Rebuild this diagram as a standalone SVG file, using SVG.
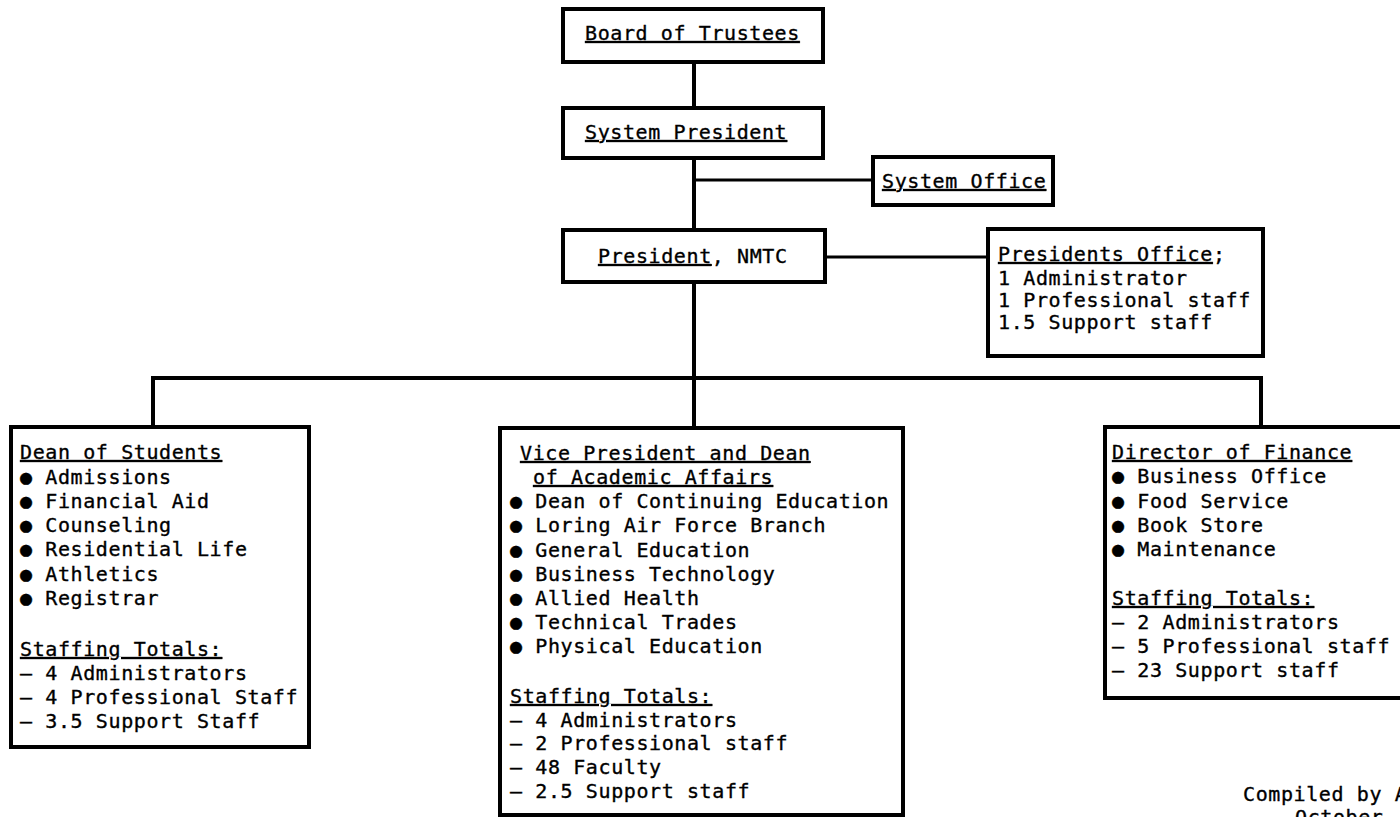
<svg xmlns="http://www.w3.org/2000/svg" width="1400" height="817" viewBox="0 0 1400 817">
<style>
.box{fill:#fff;stroke:#000;stroke-width:4}
.con{fill:none;stroke:#000;stroke-width:4;stroke-linecap:square}
text{font-family:"DejaVu Sans Mono","Liberation Mono",monospace;font-size:20px;letter-spacing:0.6px;fill:#000;stroke:#000;stroke-width:0.35}
.u{text-decoration:underline}
</style>
<rect width="1400" height="817" fill="#fff"/>
<g id="connectors">
<line class="con" x1="694" y1="62" x2="694" y2="108"/>
<line class="con" x1="694" y1="158" x2="694" y2="230"/>
<line class="con" x1="694" y1="180" x2="873" y2="180" style="stroke-width:3"/>
<line class="con" x1="825" y1="257" x2="988" y2="257" style="stroke-width:3"/>
<line class="con" x1="694" y1="282" x2="694" y2="428"/>
<polyline class="con" points="153,427 153,378 1261,378 1261,427"/>
</g>
<g id="board">
<rect class="box" x="563" y="9" width="260" height="53"/>
<text x="585" y="40" class="u">Board of Trustees</text>
</g>
<g id="system-president">
<rect class="box" x="563" y="108" width="260" height="50"/>
<text x="585" y="139" class="u">System President</text>
</g>
<g id="system-office">
<rect class="box" x="873" y="157" width="180" height="48"/>
<text x="882" y="188" class="u">System Office</text>
</g>
<g id="president">
<rect class="box" x="563" y="230" width="262" height="52"/>
<text x="598" y="263"><tspan class="u">President</tspan>, NMTC</text>
</g>
<g id="presidents-office">
<rect class="box" x="988" y="229" width="275" height="127"/>
<text x="998" y="261"><tspan class="u">Presidents Office</tspan>;</text>
<text x="998" y="285">1 Administrator</text>
<text x="998" y="307">1 Professional staff</text>
<text x="998" y="329">1.5 Support staff</text>
</g>
<g id="dean-students">
<rect class="box" x="11" y="427" width="298" height="320"/>
<text x="20" y="459" class="u">Dean of Students</text>
<text x="20" y="484">● Admissions</text>
<text x="20" y="508">● Financial Aid</text>
<text x="20" y="532">● Counseling</text>
<text x="20" y="556">● Residential Life</text>
<text x="20" y="581">● Athletics</text>
<text x="20" y="605">● Registrar</text>
<text x="20" y="656" class="u">Staffing Totals:</text>
<text x="20" y="680">– 4 Administrators</text>
<text x="20" y="704">– 4 Professional Staff</text>
<text x="20" y="728">– 3.5 Support Staff</text>
</g>
<g id="vp-academic">
<rect class="box" x="500" y="428" width="403" height="387"/>
<text x="520" y="460" class="u">Vice President and Dean</text>
<text x="533" y="484" class="u">of Academic Affairs</text>
<text x="510" y="508">● Dean of Continuing Education</text>
<text x="510" y="532">● Loring Air Force Branch</text>
<text x="510" y="557">● General Education</text>
<text x="510" y="581">● Business Technology</text>
<text x="510" y="605">● Allied Health</text>
<text x="510" y="629">● Technical Trades</text>
<text x="510" y="653">● Physical Education</text>
<text x="510" y="703" class="u">Staffing Totals:</text>
<text x="510" y="727">– 4 Administrators</text>
<text x="510" y="750">– 2 Professional staff</text>
<text x="510" y="774">– 48 Faculty</text>
<text x="510" y="798">– 2.5 Support staff</text>
</g>
<g id="director-finance">
<rect class="box" x="1105" y="427" width="305" height="271"/>
<text x="1112" y="459" class="u">Director of Finance</text>
<text x="1112" y="483">● Business Office</text>
<text x="1112" y="508">● Food Service</text>
<text x="1112" y="532">● Book Store</text>
<text x="1112" y="556">● Maintenance</text>
<text x="1112" y="605" class="u">Staffing Totals:</text>
<text x="1112" y="629">– 2 Administrators</text>
<text x="1112" y="653">– 5 Professional staff</text>
<text x="1112" y="677">– 23 Support staff</text>
</g>
<g id="footer">
<text x="1243" y="801">Compiled by A</text>
<text x="1295" y="824">October</text>
</g>
</svg>
